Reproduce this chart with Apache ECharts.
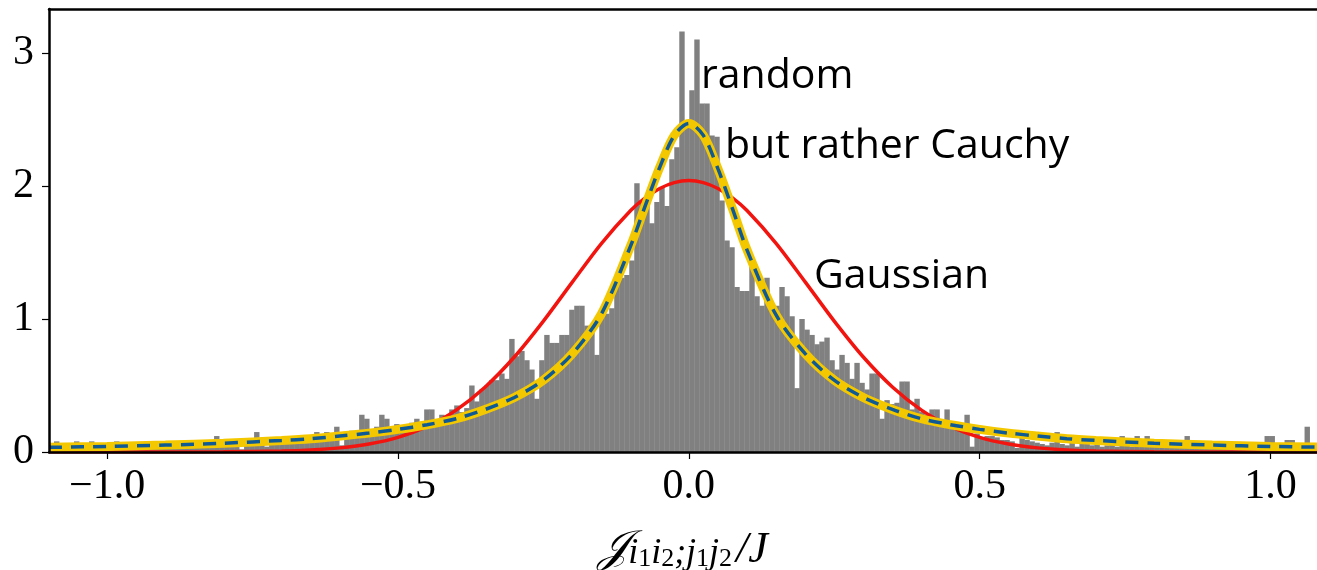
<!DOCTYPE html>
<html>
	<head>
		<meta charset="utf-8">
		<title>histogram</title>
		<script src="https://cdn.jsdelivr.net/npm/echarts/dist/echarts.min.js"></script>
		<style>
			html, body { margin: 0; padding: 0; background: #fff; }
		</style>
	</head>
	<body>
		<div id="box" style="width: 1317px;height: 570px;"></div>
		<script>
			// histogram bins (start, width) and bar heights
			var binStart = -1.1
			var binWidth = 0.0086
			var counts = [
				0.05, 0.08, 0.04, 0.05, 0.03, 0.08, 0.05, 0.04, 0.08, 0.05,
				0.03, 0.05, 0.04, 0.08, 0.05, 0.04, 0.06, 0.03, 0.05, 0.06,
				0.04, 0.05, 0.07, 0.04, 0.06, 0.05, 0.07, 0.04, 0.06, 0.07,
				0.05, 0.06, 0.08, 0.12, 0.06, 0.07, 0.05, 0.08, 0.02, 0.07,
				0.09, 0.15, 0.07, 0.04, 0.08, 0.09, 0.06, 0.10, 0.08, 0.11,
				0.09, 0.12, 0.10, 0.15, 0.11, 0.15, 0.12, 0.19, 0.05, 0.14,
				0.16, 0.13, 0.28, 0.25, 0.17, 0.19, 0.28, 0.25, 0.17, 0.21,
				0.17, 0.20, 0.22, 0.25, 0.21, 0.32, 0.32, 0.24, 0.28, 0.25,
				0.32, 0.35, 0.30, 0.33, 0.50, 0.38, 0.47, 0.50, 0.54, 0.54,
				0.59, 0.55, 0.85, 0.72, 0.76, 0.69, 0.62, 0.40, 0.69, 0.88,
				0.82, 0.82, 0.88, 0.88, 1.07, 1.10, 1.10, 0.95, 0.90, 0.73,
				1.04, 1.04, 1.08, 1.27, 1.31, 1.33, 1.44, 2.02, 1.89, 1.85,
				1.72, 1.88, 1.99, 1.85, 2.20, 2.29, 3.16, 2.45, 2.72, 3.10,
				2.62, 2.62, 2.38, 2.37, 1.89, 1.59, 1.54, 1.24, 1.21, 1.21,
				1.39, 1.17, 1.10, 1.31, 1.06, 1.10, 1.24, 1.17, 1.02, 0.48,
				1.00, 0.92, 0.88, 0.81, 0.83, 0.86, 0.69, 0.62, 0.73, 0.67,
				0.55, 0.67, 0.52, 0.47, 0.59, 0.59, 0.25, 0.39, 0.36, 0.37,
				0.53, 0.53, 0.32, 0.40, 0.30, 0.28, 0.32, 0.32, 0.24, 0.32,
				0.21, 0.18, 0.20, 0.28, 0.04, 0.14, 0.10, 0.12, 0.12, 0.11,
				0.09, 0.09, 0.08, 0.03, 0.15, 0.09, 0.08, 0.07, 0.06, 0.05,
				0.07, 0.15, 0.06, 0.05, 0.07, 0.04, 0.12, 0.12, 0.05, 0.06,
				0.04, 0.05, 0.06, 0.04, 0.12, 0.05, 0.04, 0.12, 0.06, 0.12,
				0.05, 0.04, 0.05, 0.03, 0.05, 0.04, 0.06, 0.12, 0.04, 0.05,
				0.03, 0.04, 0.05, 0.04, 0.03, 0.05, 0.04, 0.03, 0.05, 0.04,
				0.06, 0.04, 0.05, 0.12, 0.12, 0.04, 0.05, 0.09, 0.09, 0.05,
				0.04, 0.19, 0.05, 0.04
			]

			// fitted curves
			var curveX = [-1.1, -1.0, -0.9, -0.8, -0.7, -0.65, -0.6, -0.55, -0.5, -0.45, -0.4, -0.35, -0.3, -0.25, -0.2, -0.15, -0.1, -0.075, -0.05, -0.025, 0,
				0.025, 0.05, 0.075, 0.1, 0.15, 0.2, 0.25, 0.3, 0.35, 0.4, 0.45, 0.5, 0.55, 0.6, 0.65, 0.7, 0.8, 0.9, 1.0, 1.08]
			var gaussY = [0, 0, 0, 0.001, 0.007, 0.015, 0.031, 0.060, 0.110, 0.192, 0.315, 0.489, 0.714, 0.984, 1.279, 1.569, 1.815, 1.91, 1.981, 2.025, 2.04,
				2.025, 1.981, 1.91, 1.815, 1.569, 1.279, 0.984, 0.714, 0.489, 0.315, 0.192, 0.110, 0.060, 0.031, 0.015, 0.007, 0.001, 0, 0, 0]
			var cauchyY = [0.035, 0.042, 0.052, 0.066, 0.087, 0.10, 0.12, 0.142, 0.17, 0.205, 0.25, 0.32, 0.41, 0.54, 0.74, 1.04, 1.55, 1.85, 2.14, 2.38, 2.47,
				2.38, 2.13, 1.83, 1.52, 1.03, 0.74, 0.54, 0.41, 0.32, 0.25, 0.205, 0.17, 0.142, 0.12, 0.10, 0.087, 0.066, 0.052, 0.042, 0.037]

			var xTicks = [-1.0, -0.5, 0.0, 0.5, 1.0]
			var yTicks = [0, 1, 2, 3]

			var histData = []
			for (var i = 0; i < counts.length; i++) {
				var x0 = binStart + i * binWidth
				histData.push([x0, x0 + binWidth, counts[i]])
			}
			var gaussData = []
			var cauchyData = []
			for (var k = 0; k < curveX.length; k++) {
				gaussData.push([curveX[k], gaussY[k]])
				cauchyData.push([curveX[k], cauchyY[k]])
			}

			var tickFont = '"Liberation Serif", "DejaVu Serif", serif'
			var noteFont = '41px "Open Sans", "Noto Sans", sans-serif'

			var mCharts = echarts.init(document.querySelector('#box'))
			var option = {
				animation: false,
				grid: { left: 49, right: 0, top: 9, bottom: 118, outerBoundsMode: 'none', containLabel: false },
				xAxis: [
					{
						type: 'value',
						min: -1.1,
						max: 1.08,
						z: 5,
						axisLine: { onZero: false, lineStyle: { color: '#000', width: 2.5 } },
						axisTick: { show: true, length: 7, lineStyle: { color: '#000', width: 1.2 }, customValues: xTicks },
						axisLabel: {
							customValues: xTicks,
							margin: 14,
							fontFamily: tickFont,
							fontSize: 42,
							color: '#000',
							formatter: function (v) {
								return (v < 0 ? '\u2212' : '') + Math.abs(v).toFixed(1)
							}
						},
						splitLine: { show: false },
						name: '{J|\uD835\uDCA5}{s|i}{ss|1}{s|i}{ss|2}{s|;j}{ss|1}{s|j}{ss|2}{n|/J}',
						nameLocation: 'middle',
						nameGap: 74,
						nameTextStyle: {
							rich: {
								J: { fontFamily: '"DejaVu Serif", serif', fontSize: 44, fontStyle: 'italic', color: '#000', lineHeight: 46, verticalAlign: 'bottom' },
								s: { fontFamily: tickFont, fontSize: 36, fontStyle: 'italic', color: '#000', verticalAlign: 'bottom' },
								ss: { fontFamily: tickFont, fontSize: 26, color: '#000', verticalAlign: 'bottom' },
								n: { fontFamily: tickFont, fontSize: 44, fontStyle: 'italic', color: '#000', verticalAlign: 'bottom', padding: [0, 0, 0, 4] }
							}
						}
					},
					{
						type: 'value',
						position: 'top',
						min: -1.1,
						max: 1.08,
						z: 5,
						axisLine: { onZero: false, lineStyle: { color: '#000', width: 2.5 } },
						axisTick: { show: false },
						axisLabel: { show: false },
						splitLine: { show: false }
					}
				],
				yAxis: {
					type: 'value',
					min: 0,
					max: 3.33,
					z: 5,
					axisLine: { show: true, onZero: false, lineStyle: { color: '#000', width: 2.5 } },
					axisTick: { show: true, length: 7, lineStyle: { color: '#000', width: 1.2 }, customValues: yTicks },
					axisLabel: { customValues: yTicks, margin: 15, fontFamily: tickFont, fontSize: 42, color: '#000' },
					splitLine: { show: false }
				},
				series: [
					{
						type: 'custom',
						clip: true,
						data: histData,
						renderItem: function (params, api) {
							var p0 = api.coord([api.value(0), api.value(2)])
							var p1 = api.coord([api.value(1), 0])
							return {
								type: 'rect',
								shape: { x: p0[0], y: p0[1], width: p1[0] - p0[0] + 0.4, height: p1[1] - p0[1] },
								style: { fill: '#808080' }
							}
						}
					},
					{
						type: 'line',
						data: gaussData,
						smooth: 0.3,
						showSymbol: false,
						lineStyle: { color: '#f2140f', width: 3.5 }
					},
					{
						type: 'line',
						data: cauchyData,
						smooth: 0.3,
						showSymbol: false,
						lineStyle: { color: '#f4c800', width: 9 }
					},
					{
						type: 'line',
						data: cauchyData,
						smooth: 0.3,
						showSymbol: false,
						lineStyle: { color: '#0f5a94', width: 3.5, type: [13, 9] }
					}
				],
				graphic: [
					{ type: 'text', style: { text: 'random', x: 701, y: 56, font: noteFont, fill: '#000' } },
					{ type: 'text', style: { text: 'but rather Cauchy', x: 725, y: 126, font: noteFont, fill: '#000' } },
					{ type: 'text', style: { text: 'Gaussian', x: 814, y: 256, font: noteFont, fill: '#000' } }
				]
			}
			mCharts.setOption(option)
		</script>
	</body>
</html>
